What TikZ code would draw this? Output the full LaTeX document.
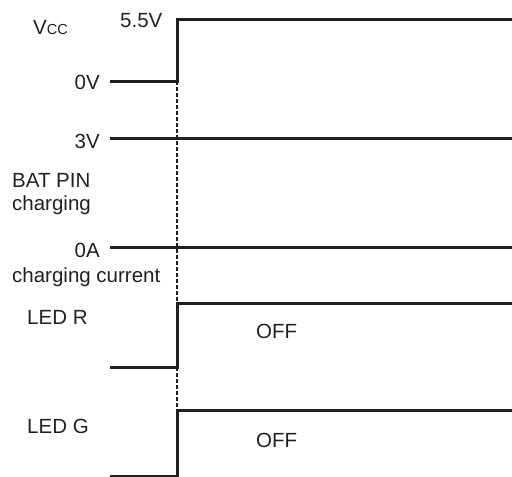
\documentclass[tikz,border=0pt]{standalone}
\usepackage{fontspec}
\setmainfont{Liberation Sans}
\definecolor{ink}{HTML}{231F20}
\begin{document}
\begin{tikzpicture}[x=1pt,y=-1pt,
  sig/.style={line width=3pt, draw=ink, line join=miter},
  guide/.style={line width=1.1pt, draw=ink, dash pattern=on 3.5pt off 2.5pt},
  lbl/.style={inner sep=0pt, text=ink, font=\fontsize{20.5}{25}\selectfont}]
\useasboundingbox (0,0) rectangle (512,477);
% coordinates
\coordinate (vA) at (110,81);  \coordinate (vB) at (177,81);
\coordinate (vC) at (177,19);  \coordinate (vD) at (512,19);
\coordinate (bA) at (110,138); \coordinate (bB) at (512,138);
\coordinate (cA) at (110,247); \coordinate (cB) at (512,247);
\coordinate (rA) at (110,367); \coordinate (rB) at (177,367);
\coordinate (rC) at (177,303); \coordinate (rD) at (512,303);
\coordinate (gA) at (110,476); \coordinate (gB) at (177,476);
\coordinate (gC) at (177,410); \coordinate (gD) at (512,410);
% signals
\draw[sig] (vA) -- (vB) -- (vC) -- (vD);
\draw[sig] (bA) -- (bB);
\draw[sig] (cA) -- (cB);
\draw[sig] (rA) -- (rB) -- (rC) -- (rD);
\draw[sig] (gA) -- (gB) -- (gC) -- (gD);
% guides
\draw[guide] (vB) -- (rC);
\draw[guide] (rB) -- (gC);
% labels
\node[lbl, anchor=base west] (vcc) at (33,34) {V{\fontsize{14.5}{16}\selectfont CC}};
\node[lbl, anchor=base west] (v55) at (120,27) {5.5V};
\node[lbl, anchor=base east] (v0) at (100,89) {0V};
\node[lbl, anchor=base east] (v3) at (100,148) {3V};
\node[lbl, anchor=base west] (bat) at (12,187) {BAT PIN};
\node[lbl, anchor=base west] (chg) at (12,210) {charging};
\node[lbl, anchor=base east] (a0) at (100,257) {0A};
\node[lbl, anchor=base west] (cc) at (12,282) {charging current};
\node[lbl, anchor=base west] (ledr) at (27,324) {LED R};
\node[lbl, anchor=base west] (ledg) at (27,433) {LED G};
\node[lbl, anchor=base west] (offr) at (256,338) {OFF};
\node[lbl, anchor=base west] (offg) at (256,447) {OFF};
\end{tikzpicture}
\end{document}
